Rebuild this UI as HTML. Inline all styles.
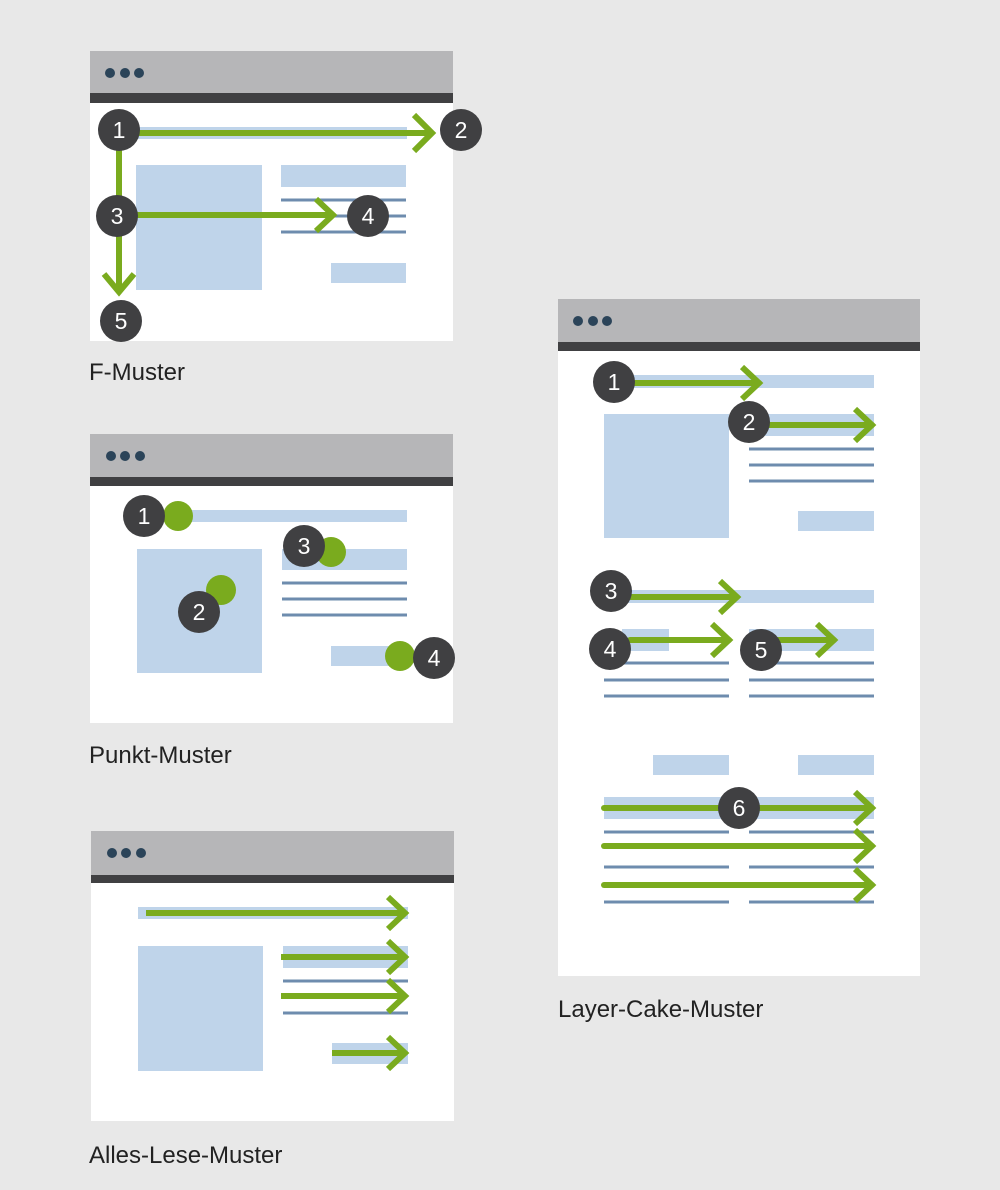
<!DOCTYPE html>
<html><head><meta charset="utf-8"><style>
html,body{margin:0;padding:0;background:#e8e8e8;}
svg{display:block;}
text{font-family:"Liberation Sans",sans-serif;}
.n{fill:#fff;font-size:23px;text-anchor:middle;}
.l{fill:#222;font-size:24px;}
</style></head><body>
<svg width="1000" height="1190" viewBox="0 0 1000 1190" xmlns="http://www.w3.org/2000/svg">
<rect width="1000" height="1190" fill="#e8e8e8"/>

<!-- Window 1 -->
<rect x="90" y="51" width="363" height="290" fill="#fff"/>
<rect x="90" y="51" width="363" height="43" fill="#b6b6b8"/>
<rect x="90" y="93" width="363" height="10" fill="#404042"/>
<g fill="#2b4459"><circle cx="110" cy="73" r="5"/><circle cx="125" cy="73" r="5"/><circle cx="139" cy="73" r="5"/></g>
<g fill="#bfd4ea">
<rect x="138" y="127" width="269" height="12"/>
<rect x="136" y="165" width="126" height="125"/>
<rect x="281" y="165" width="125" height="22"/>
<rect x="331" y="263" width="75" height="20"/>
</g>
<g stroke="#6e8cae" stroke-width="3"><line x1="281" y1="200" x2="406" y2="200"/><line x1="281" y1="216" x2="406" y2="216"/><line x1="281" y1="232" x2="406" y2="232"/></g>
<g stroke="#7aab1e" stroke-width="6" fill="none">
<line x1="120" y1="133" x2="432" y2="133"/><polyline points="414,115 432,133 414,151"/>
<line x1="119" y1="130" x2="119" y2="292"/><polyline points="104,274 119,292 134,274"/>
<line x1="118" y1="215" x2="333" y2="215"/><polyline points="316,199 333,215 316,231"/>
</g>
<g fill="#404042"><circle cx="119" cy="130" r="21"/><circle cx="461" cy="130" r="21"/><circle cx="117" cy="216" r="21"/><circle cx="368" cy="216" r="21"/><circle cx="121" cy="321" r="21"/></g>
<text class="n" x="119" y="138">1</text><text class="n" x="461" y="138">2</text><text class="n" x="117" y="224">3</text><text class="n" x="368" y="224">4</text><text class="n" x="121" y="329">5</text>
<text class="l" x="89" y="380">F-Muster</text>

<!-- Window 2 -->
<rect x="90" y="434" width="363" height="289" fill="#fff"/>
<rect x="90" y="434" width="363" height="43" fill="#b6b6b8"/>
<rect x="90" y="477" width="363" height="9" fill="#404042"/>
<g fill="#2b4459"><circle cx="111" cy="456" r="5"/><circle cx="125" cy="456" r="5"/><circle cx="140" cy="456" r="5"/></g>
<g fill="#bfd4ea">
<rect x="178" y="510" width="229" height="12"/>
<rect x="137" y="549" width="125" height="124"/>
<rect x="282" y="549" width="125" height="21"/>
<rect x="331" y="646" width="76" height="20"/>
</g>
<g stroke="#6e8cae" stroke-width="3"><line x1="282" y1="583" x2="407" y2="583"/><line x1="282" y1="599" x2="407" y2="599"/><line x1="282" y1="615" x2="407" y2="615"/></g>
<g fill="#7aab1e"><circle cx="178" cy="516" r="15"/><circle cx="331" cy="552" r="15"/><circle cx="221" cy="590" r="15"/><circle cx="400" cy="656" r="15"/></g>
<g fill="#404042"><circle cx="144" cy="516" r="21"/><circle cx="304" cy="546" r="21"/><circle cx="199" cy="612" r="21"/><circle cx="434" cy="658" r="21"/></g>
<text class="n" x="144" y="524">1</text><text class="n" x="304" y="554">3</text><text class="n" x="199" y="620">2</text><text class="n" x="434" y="666">4</text>
<text class="l" x="89" y="763">Punkt-Muster</text>

<!-- Window 3 -->
<rect x="91" y="831" width="363" height="290" fill="#fff"/>
<rect x="91" y="831" width="363" height="44" fill="#b6b6b8"/>
<rect x="91" y="875" width="363" height="8" fill="#404042"/>
<g fill="#2b4459"><circle cx="112" cy="853" r="5"/><circle cx="126" cy="853" r="5"/><circle cx="141" cy="853" r="5"/></g>
<g fill="#bfd4ea">
<rect x="138" y="907" width="270" height="12"/>
<rect x="138" y="946" width="125" height="125"/>
<rect x="283" y="946" width="125" height="22"/>
<rect x="332" y="1043" width="76" height="21"/>
</g>
<g stroke="#6e8cae" stroke-width="3"><line x1="283" y1="981" x2="408" y2="981"/><line x1="283" y1="1013" x2="408" y2="1013"/></g>
<g stroke="#7aab1e" stroke-width="6" fill="none">
<line x1="146" y1="913" x2="405" y2="913"/><polyline points="388,897 405,913 388,929"/>
<line x1="281" y1="957" x2="405" y2="957"/><polyline points="388,941 405,957 388,973"/>
<line x1="281" y1="996" x2="405" y2="996"/><polyline points="388,980 405,996 388,1012"/>
<line x1="332" y1="1053" x2="405" y2="1053"/><polyline points="388,1037 405,1053 388,1069"/>
</g>
<text class="l" x="89" y="1163">Alles-Lese-Muster</text>

<!-- Window 4 -->
<rect x="558" y="299" width="362" height="677" fill="#fff"/>
<rect x="558" y="299" width="362" height="43" fill="#b6b6b8"/>
<rect x="558" y="342" width="362" height="9" fill="#404042"/>
<g fill="#2b4459"><circle cx="578" cy="321" r="5"/><circle cx="593" cy="321" r="5"/><circle cx="607" cy="321" r="5"/></g>
<g fill="#bfd4ea">
<rect x="629" y="375" width="245" height="13"/>
<rect x="604" y="414" width="125" height="124"/>
<rect x="749" y="414" width="125" height="22"/>
<rect x="798" y="511" width="76" height="20"/>
<rect x="612" y="590" width="262" height="13"/>
<rect x="622" y="629" width="47" height="22"/>
<rect x="749" y="629" width="125" height="22"/>
<rect x="653" y="755" width="76" height="20"/>
<rect x="798" y="755" width="76" height="20"/>
<rect x="604" y="797" width="270" height="22"/>
</g>
<g stroke="#6e8cae" stroke-width="3">
<line x1="749" y1="449" x2="874" y2="449"/><line x1="749" y1="465" x2="874" y2="465"/><line x1="749" y1="481" x2="874" y2="481"/>
<line x1="604" y1="663" x2="729" y2="663"/><line x1="604" y1="680" x2="729" y2="680"/><line x1="604" y1="696" x2="729" y2="696"/>
<line x1="749" y1="663" x2="874" y2="663"/><line x1="749" y1="680" x2="874" y2="680"/><line x1="749" y1="696" x2="874" y2="696"/>
<line x1="604" y1="832" x2="729" y2="832"/><line x1="749" y1="832" x2="874" y2="832"/>
<line x1="604" y1="867" x2="729" y2="867"/><line x1="749" y1="867" x2="874" y2="867"/>
<line x1="604" y1="902" x2="729" y2="902"/><line x1="749" y1="902" x2="874" y2="902"/>
</g>
<g stroke="#7aab1e" stroke-width="6" fill="none" stroke-linecap="round">
<line x1="630" y1="383" x2="759" y2="383"/><polyline points="742,367 759,383 742,399" stroke-linecap="butt"/>
<line x1="765" y1="425" x2="872" y2="425"/><polyline points="855,409 872,425 855,441" stroke-linecap="butt"/>
<line x1="630" y1="597" x2="737" y2="597"/><polyline points="720,581 737,597 720,613" stroke-linecap="butt"/>
<line x1="630" y1="640" x2="729" y2="640"/><polyline points="712,624 729,640 712,656" stroke-linecap="butt"/>
<line x1="775" y1="640" x2="834" y2="640"/><polyline points="817,624 834,640 817,656" stroke-linecap="butt"/>
<line x1="604" y1="808" x2="872" y2="808"/><polyline points="855,792 872,808 855,824" stroke-linecap="butt"/>
<line x1="604" y1="846" x2="872" y2="846"/><polyline points="855,830 872,846 855,862" stroke-linecap="butt"/>
<line x1="604" y1="885" x2="872" y2="885"/><polyline points="855,869 872,885 855,901" stroke-linecap="butt"/>
</g>
<g fill="#404042"><circle cx="614" cy="382" r="21"/><circle cx="749" cy="422" r="21"/><circle cx="611" cy="591" r="21"/><circle cx="610" cy="649" r="21"/><circle cx="761" cy="650" r="21"/><circle cx="739" cy="808" r="21"/></g>
<text class="n" x="614" y="390">1</text><text class="n" x="749" y="430">2</text><text class="n" x="611" y="599">3</text><text class="n" x="610" y="657">4</text><text class="n" x="761" y="658">5</text><text class="n" x="739" y="816">6</text>
<text class="l" x="558" y="1017">Layer-Cake-Muster</text>
</svg>
</body></html>
